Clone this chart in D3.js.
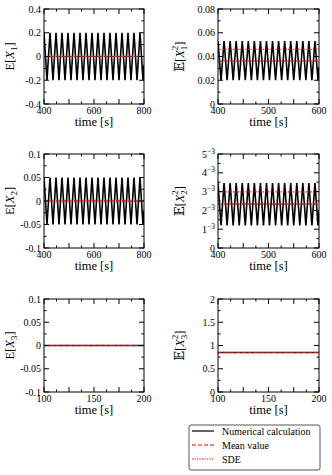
<!DOCTYPE html>
<html>
<head>
<meta charset="utf-8">
<script src="https://cdn.jsdelivr.net/npm/d3@7"></script>
<style>
  body { margin: 0; background: #fff; }
  text { font-family: "Liberation Serif", "Times New Roman", "DejaVu Serif", serif; }
  .tick-label { font-size: 10px; fill: #000; }
  .time-label { font-size: 12.5px; fill: #000; }
  .y-label { font-size: 12.5px; fill: #000; }
  .legend-text { font-size: 10px; fill: #000; }
</style>
</head>
<body>
<svg id="chart" width="332" height="475"></svg>
<script>
// ── Data: extrema of the oscillating curves ──
const timeLong = [400, 412, 424, 436, 448, 460, 472, 484, 496, 508, 520, 532, 544, 556, 568, 580, 592,
                  604, 616, 628, 640, 652, 664, 676, 688, 700, 712, 724, 736, 748, 760, 772, 784, 796, 800];
const timeShort = [400, 406, 412, 418, 424, 430, 436, 442, 448, 454, 460, 466, 472, 478, 484, 490, 496,
                   502, 508, 514, 520, 526, 532, 538, 544, 550, 556, 562, 568, 574, 580, 586, 592, 598, 600];
const timeX3 = [100, 200];

const ex1 = [0.2, -0.2, 0.2, -0.2, 0.2, -0.2, 0.2, -0.2, 0.2, -0.2, 0.2, -0.2, 0.2, -0.2, 0.2, -0.2, 0.2,
             -0.2, 0.2, -0.2, 0.2, -0.2, 0.2, -0.2, 0.2, -0.2, 0.2, -0.2, 0.2, -0.2, 0.2, -0.2, 0.2, -0.2, -0.07];
const ex1sq = [0.053, 0.020, 0.053, 0.020, 0.053, 0.020, 0.053, 0.020, 0.053, 0.020, 0.053, 0.020, 0.053, 0.020,
               0.053, 0.020, 0.053, 0.020, 0.053, 0.020, 0.053, 0.020, 0.053, 0.020, 0.053, 0.020, 0.053, 0.020,
               0.053, 0.020, 0.053, 0.020, 0.053, 0.020, 0.031];
const ex2 = [0.05, -0.05, 0.05, -0.05, 0.05, -0.05, 0.05, -0.05, 0.05, -0.05, 0.05, -0.05, 0.05, -0.05, 0.05, -0.05, 0.05,
             -0.05, 0.05, -0.05, 0.05, -0.05, 0.05, -0.05, 0.05, -0.05, 0.05, -0.05, 0.05, -0.05, 0.05, -0.05, 0.05, -0.05, -0.02];
const ex2sq = [3.45, 1.2, 3.45, 1.2, 3.45, 1.2, 3.45, 1.2, 3.45, 1.2, 3.45, 1.2, 3.45, 1.2, 3.45, 1.2, 3.45,
               1.2, 3.45, 1.2, 3.45, 1.2, 3.45, 1.2, 3.45, 1.2, 3.45, 1.2, 3.45, 1.2, 3.45, 1.2, 3.45, 1.2, 1.95];
const ex3 = [0, 0];
const ex3sq = [0.85, 0.85];

// Mean value and SDE reference levels
const meanVals = [0, 0.0362, 0, 2.33, 0, 0.85];
const sdeVals  = [0, 0.0461, 0, 2.99, 0, 0.85];

// Axis domains and tick labels
const xDomains = [[400, 800], [400, 600], [400, 800], [400, 600], [100, 200], [100, 200]];
const yDomains = [[-0.4, 0.4], [0, 0.08], [-0.1, 0.1], [0, 5], [-0.1, 0.1], [0, 2]];
const xLabelTicks = [[400, 600, 800], [400, 500, 600], [400, 600, 800], [400, 500, 600], [100, 150, 200], [100, 150, 200]];
const yLabelTicks = [
  [-0.4, -0.2, 0, 0.2, 0.4],
  [0, 0.02, 0.04, 0.06, 0.08],
  [-0.1, -0.05, 0, 0.05, 0.1],
  [0, 1, 2, 3, 4, 5],
  [-0.1, -0.05, 0, 0.05, 0.1],
  [0, 0.5, 1, 1.5, 2]
];
const yTickText = [
  ["-0.4", "-0.2", "0", "0.2", "0.4"],
  ["0", "0.02", "0.04", "0.06", "0.08"],
  ["-0.1", "-0.05", "0", "0.05", "0.1"],
  ["0", "1", "2", "3", "4", "5"],
  ["-0.1", "-0.05", "0", "0.05", "0.1"],
  ["0", "0.5", "1", "1.5", "2"]
];
const legendItems = ["Numerical calculation", "Mean value", "SDE"];

// ── Panel layout ──
const colLeft = [44, 218];
const colWidth = [100, 101];
const rowTop = [9, 154, 299];
const rowBottom = [104, 248, 392];

const timeSeries = [timeLong, timeShort, timeLong, timeShort, timeX3, timeX3];
const valueSeries = [ex1, ex1sq, ex2, ex2sq, ex3, ex3sq];
const labels = [
  { bb: false, sub: "1", sup: null },
  { bb: true, sub: "1", sup: "2" },
  { bb: false, sub: "2", sup: null },
  { bb: true, sub: "2", sup: "2" },
  { bb: false, sub: "3", sup: null },
  { bb: true, sub: "3", sup: "2" }
];

const svg = d3.select("#chart");
const red = "#e8000b";

valueSeries.forEach((vals, i) => {
  const col = i % 2, row = Math.floor(i / 2);
  const x0 = colLeft[col], x1 = colLeft[col] + colWidth[col];
  const y0 = rowTop[row], y1 = rowBottom[row];

  const x = d3.scaleLinear().domain(xDomains[i]).range([x0, x1]);
  const y = d3.scaleLinear().domain(yDomains[i]).range([y1, y0]);

  const g = svg.append("g");
  const clipId = "clip" + i;
  g.append("clipPath").attr("id", clipId)
    .append("rect").attr("x", x0).attr("y", y0).attr("width", x1 - x0).attr("height", y1 - y0);

  // data
  const pts = timeSeries[i].map((t, k) => [t, vals[k]]);
  const line = d3.line().x(d => x(d[0])).y(d => y(d[1]));
  g.append("path")
    .attr("clip-path", `url(#${clipId})`)
    .attr("d", line(pts))
    .attr("fill", "none")
    .attr("stroke", "#000")
    .attr("stroke-width", 1.6)
    .attr("stroke-linejoin", "miter");

  // Mean (dashed) and SDE (dotted)
  g.append("line")
    .attr("x1", x0).attr("x2", x1)
    .attr("y1", y(meanVals[i])).attr("y2", y(meanVals[i]))
    .attr("stroke", red).attr("stroke-width", 1.2)
    .attr("stroke-dasharray", "4,2");
  g.append("line")
    .attr("x1", x0).attr("x2", x1)
    .attr("y1", y(sdeVals[i])).attr("y2", y(sdeVals[i]))
    .attr("stroke", red).attr("stroke-width", 1.2)
    .attr("stroke-dasharray", "1.2,1.3");

  // Inward ticks on all four sides
  const xd = xDomains[i], yd = yDomains[i];
  const xLab = xLabelTicks[i];
  const xMajorStep = (xLab[1] - xLab[0]) / 2;
  const xMajor = d3.range(xd[0], xd[1] + 1e-9, xMajorStep);
  const xMinor = d3.range(xd[0], xd[1] + 1e-9, xMajorStep / 2);
  const yLab = yLabelTicks[i];
  const yMajorStep = yLab[1] - yLab[0];
  const yMinor = d3.range(yd[0], yd[1] + yMajorStep * 1e-6, yMajorStep / 2);

  const tickG = g.append("g").attr("stroke", "#000").attr("stroke-width", 1);
  xMinor.forEach(v => {
    const isMajor = xMajor.some(m => Math.abs(m - v) < 1e-9);
    const len = isMajor ? 5 : 2.5;
    tickG.append("line").attr("x1", x(v)).attr("x2", x(v)).attr("y1", y1).attr("y2", y1 - len);
    tickG.append("line").attr("x1", x(v)).attr("x2", x(v)).attr("y1", y0).attr("y2", y0 + len);
  });
  yMinor.forEach(v => {
    const isMajor = yLab.some(m => Math.abs(m - v) < yMajorStep * 1e-6);
    const len = isMajor ? 5 : 2.5;
    tickG.append("line").attr("y1", y(v)).attr("y2", y(v)).attr("x1", x0).attr("x2", x0 + len);
    tickG.append("line").attr("y1", y(v)).attr("y2", y(v)).attr("x1", x1).attr("x2", x1 - len);
  });

  // Frame
  g.append("rect")
    .attr("x", x0).attr("y", y0).attr("width", x1 - x0).attr("height", y1 - y0)
    .attr("fill", "none").attr("stroke", "#000").attr("stroke-width", 1);

  // x tick labels
  g.selectAll(".xl").data(xLab).join("text")
    .attr("class", "tick-label")
    .attr("x", d => x(d))
    .attr("y", y1 + 10)
    .attr("text-anchor", "middle")
    .text(d => d);

  g.append("text")
    .attr("class", "time-label")
    .attr("x", (x0 + x1) / 2)
    .attr("y", y1 + 21.5)
    .attr("text-anchor", "middle")
    .text("time [s]");

  // y tick labels
  const yl = g.selectAll(".yl").data(yLab).join("text")
    .attr("class", "tick-label")
    .attr("x", x0 - 3)
    .attr("y", d => y(d) + 3.5)
    .attr("text-anchor", "end");
  yl.each(function (d, k) {
    const t = d3.select(this);
    const txt = yTickText[i][k];
    if (i === 3 && txt !== "0") {
      t.append("tspan").text(txt);
      t.append("tspan").attr("dy", -4).style("font-size", "7.5px").text("\u22123");
    } else {
      t.text(txt);
    }
  });

  // y axis label (rotated)
  const lab = labels[i];
  const lx = col === 0 ? 14 : 184;
  const ly = (y0 + y1) / 2;
  const yt = g.append("text")
    .attr("class", "y-label")
    .attr("text-anchor", "middle")
    .attr("transform", `translate(${lx},${ly}) rotate(-90)`);
  yt.append("tspan").text(lab.bb ? "\u{1D53C}[" : "E[");
  yt.append("tspan").style("font-style", "italic").text("X");
  yt.append("tspan").attr("dy", 3).style("font-size", "9px").text(lab.sub);
  if (lab.sup) {
    yt.append("tspan").attr("dx", -4.5).attr("dy", -9).style("font-size", "9px").text(lab.sup);
    yt.append("tspan").attr("dy", 6).text("]");
  } else {
    yt.append("tspan").attr("dy", -3).text("]");
  }
});

// ── Legend ──
const lg = svg.append("g");
lg.append("rect")
  .attr("x", 189).attr("y", 425).attr("width", 131).attr("height", 45)
  .attr("rx", 2).attr("fill", "#fff").attr("stroke", "#555").attr("stroke-width", 1);
const legendStyle = [
  { color: "#000", dash: null },
  { color: red, dash: "4,2" },
  { color: red, dash: "1.2,1.3" }
];
const legendY = d3.scalePoint().domain(legendItems).range([431, 459]);
legendItems.forEach((name, k) => {
  lg.append("line")
    .attr("x1", 192).attr("x2", 214)
    .attr("y1", legendY(name)).attr("y2", legendY(name))
    .attr("stroke", legendStyle[k].color)
    .attr("stroke-width", 1.2)
    .attr("stroke-dasharray", legendStyle[k].dash);
  lg.append("text")
    .attr("class", "legend-text")
    .attr("x", 222)
    .attr("y", legendY(name) + 3.5)
    .text(name);
});
</script>
</body>
</html>
